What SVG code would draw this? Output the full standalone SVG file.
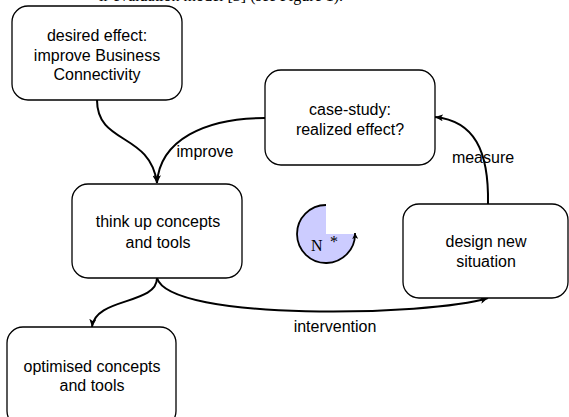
<svg xmlns="http://www.w3.org/2000/svg" width="569" height="417" viewBox="0 0 569 417">
  <style>
    .box { fill: #ffffff; stroke: #000000; stroke-width: 1.3; }
    .lbl { font-family: "Liberation Sans", Arial, sans-serif; font-size: 16px; fill: #000000; text-anchor: middle; }
    .edge { fill: none; stroke: #000000; stroke-width: 2; }
    .body { font-family: "Liberation Serif", "Times New Roman", serif; font-size: 16px; fill: #000000; }
  </style>
  <defs>
    <marker id="arrow" markerUnits="userSpaceOnUse" markerWidth="9" markerHeight="7" refX="8" refY="3.5" orient="auto">
      <path d="M0,0 L8,3.5 L0,7 L2,3.5 Z" fill="#000000"/>
    </marker>
    <marker id="arrowSmall" markerUnits="userSpaceOnUse" markerWidth="7" markerHeight="6" refX="6" refY="3" orient="auto">
      <path d="M0,0 L6,3 L0,6 L1.5,3 Z" fill="#000000"/>
    </marker>
  </defs>

  <rect width="569" height="417" fill="#ffffff"/>

  <!-- running text above the figure, cut by the page edge -->
  <text class="body" x="343" y="0.5" text-anchor="end">ir evaluation model [3] (see Figure 1).</text>

  <!-- connectors -->
  <g id="connectors">
    <path class="edge" d="M97,100 C97,145 150,132 157,183" marker-end="url(#arrow)"/>
    <path class="edge" d="M265,118 C205,118 160,140 157,183" marker-end="url(#arrow)"/>
    <path class="edge" d="M157,278 C157,305 95,297 92,327" marker-end="url(#arrow)"/>
    <path class="edge" d="M157,278 C170,322 430,316 488,298" marker-end="url(#arrow)"/>
    <path class="edge" d="M488,204 C489,150 474,121 435,117" marker-end="url(#arrow)"/>
    <text class="lbl" x="205" y="157">improve</text>
    <text class="lbl" x="483" y="163">measure</text>
    <text class="lbl" x="335" y="332">intervention</text>
  </g>

  <g id="desired-effect">
    <rect class="box" x="12" y="6" width="170" height="94" rx="16"/>
    <text class="lbl" x="97" y="41" font-size="16.6">desired effect:</text>
    <text class="lbl" x="97" y="61" font-size="16.6">improve Business</text>
    <text class="lbl" x="97" y="80" font-size="16.6">Connectivity</text>
  </g>

  <g id="case-study">
    <rect class="box" x="265" y="70" width="170" height="95" rx="16"/>
    <text class="lbl" x="350" y="115">case-study:</text>
    <text class="lbl" x="350" y="135">realized effect?</text>
  </g>

  <g id="think-up">
    <rect class="box" x="72" y="184" width="170" height="94" rx="16"/>
    <text class="lbl" x="158" y="227" font-size="17.5">think up concepts</text>
    <text class="lbl" x="158" y="248" font-size="17.5">and tools</text>
  </g>

  <g id="design-new">
    <rect class="box" x="403" y="204" width="165" height="94" rx="16"/>
    <text class="lbl" x="486" y="247">design new</text>
    <text class="lbl" x="486" y="267">situation</text>
  </g>

  <g id="optimised">
    <rect class="box" x="7" y="327" width="169" height="100" rx="16"/>
    <text class="lbl" x="92" y="372" font-size="16.5">optimised concepts</text>
    <text class="lbl" x="92" y="391" font-size="16.5">and tools</text>
  </g>

  <!-- iteration symbol: three-quarter disc with a turning arrow -->
  <g id="iteration">
    <path d="M326,234 L326,205 A29,29 0 1 0 355,234 Z" fill="#ccccff"/>
    <path d="M326,205 A29,29 0 1 0 355,233" fill="none" stroke="#000000" stroke-width="1.8" marker-end="url(#arrowSmall)"/>
    <text class="body" x="311" y="251" font-size="19">N</text>
    <text class="body" x="330" y="247" font-size="15">*</text>
  </g>
</svg>
